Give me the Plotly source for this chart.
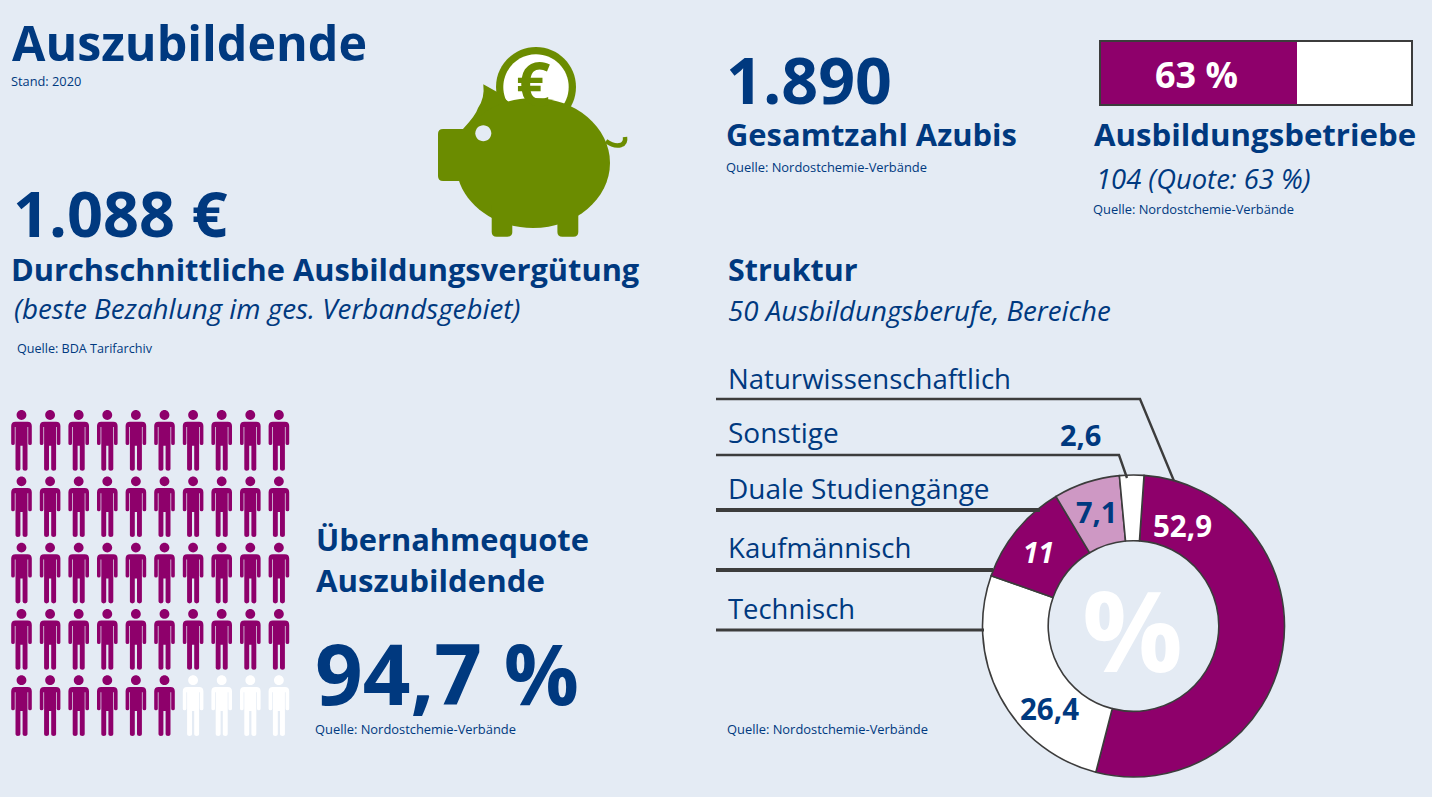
import plotly.graph_objects as go

# data
structure_labels = ['Naturwissenschaftlich', 'Technisch', 'Kaufmännisch', 'Duale Studiengänge', 'Sonstige']
structure_values = [52.9, 26.4, 11, 7.1, 2.6]
structure_colors = ['#8E006B', '#FFFFFF', '#8E006B', '#CE98C4', '#FFFFFF']
company_share = [63, 37]
company_colors = ['#8E006B', '#FFFFFF']
people_total = 50
people_marked = 46

BG = '#E4EBF4'
BLUE = '#00397F'
PURPLE = '#8E006B'
GREEN = '#6B8C00'
LINE = '#3C3C3C'
FONT = 'Open Sans'
W, H = 1432, 797


def txt(x, y, text, size, color=BLUE, weight=400, style='normal', anchor='left'):
    # Open Sans sits a little right of and below the x, y
    if anchor == 'left':
        x -= 2
    fig.add_annotation(x=x, y=y - 1, xref='x', yref='y', text=text, showarrow=False,
                       xanchor=anchor, yanchor='middle', borderpad=0,
                       font=dict(family=FONT, size=size, color=color, weight=weight, style=style))


def circle_path(cx, cy, r):
    k = 0.5523 * r
    return (f'M{cx - r},{cy} C{cx - r},{cy - k} {cx - k},{cy - r} {cx},{cy - r} '
            f'C{cx + k},{cy - r} {cx + r},{cy - k} {cx + r},{cy} '
            f'C{cx + r},{cy + k} {cx + k},{cy + r} {cx},{cy + r} '
            f'C{cx - k},{cy + r} {cx - r},{cy + k} {cx - r},{cy} Z ')


# one stick figure, x centred on cx, y starting at the top of the head
def person_path(cx, top):
    pts = [('M', -6, 11.7), ('L', 6, 11.7), ('Q', 10.3, 11.7, 10.3, 16), ('L', 10.3, 33.5),
           ('Q', 10.3, 35, 8.5, 35), ('Q', 6.7, 35, 6.7, 33.5), ('L', 6.7, 17), ('L', 6, 17),
           ('L', 6, 59), ('Q', 6, 60.8, 3.6, 60.8), ('Q', 1.1, 60.8, 1.1, 59), ('L', 1.1, 35.8),
           ('L', -1.1, 35.8), ('L', -1.1, 59), ('Q', -1.1, 60.8, -3.6, 60.8), ('Q', -6, 60.8, -6, 59),
           ('L', -6, 17), ('L', -6.7, 17), ('L', -6.7, 33.5), ('Q', -6.7, 35, -8.5, 35),
           ('Q', -10.3, 35, -10.3, 33.5), ('L', -10.3, 16), ('Q', -10.3, 11.7, -6, 11.7)]
    out = ''
    for p in pts:
        coords = [f'{cx + p[i]},{top + p[i + 1]}' for i in range(1, len(p), 2)]
        out += p[0] + ' '.join(coords) + ' '
    return out + 'Z ' + circle_path(cx, top + 5, 4.9)


fig = go.Figure()

# donut with the structure of the apprenticeships
fig.add_trace(go.Pie(labels=structure_labels, values=structure_values, hole=0.565, sort=False,
                     direction='clockwise', rotation=4, textinfo='none', showlegend=False,
                     marker=dict(colors=structure_colors, line=dict(color=LINE, width=1.6)),
                     domain=dict(x=[982 / W, 1285 / W], y=[(H - 777) / H, (H - 475) / H])))

# 63 % bar
for value, color in zip(company_share, company_colors):
    fig.add_trace(go.Bar(x=[value], y=['Betriebe'], orientation='h', xaxis='x2', yaxis='y2',
                         marker=dict(color=color, line=dict(width=0)), showlegend=False))

# stick figures
paths = {PURPLE: '', '#FFFFFF': ''}
for n in range(people_total):
    row, col = divmod(n, 10)
    color = PURPLE if n < people_marked else '#FFFFFF'
    paths[color] += person_path(21.5 + col * 28.6, 410 + row * 66.3)
for color, path in paths.items():
    fig.add_shape(type='path', path=path, fillcolor=color, line_width=0, xref='x', yref='y')

# piggy bank
fig.add_shape(type='path', path=circle_path(536, 87, 40), fillcolor=GREEN, line_width=0)
fig.add_shape(type='path', path=circle_path(536, 87, 32.7), fillcolor='#FFFFFF', line_width=0)
fig.add_shape(type='path', path='M483.3,84.3 L496.7,91.7 L510,103 L500,135 L463,129 Q476,115 478,108 Q485,98 483.3,84.3 Z',
              fillcolor=GREEN, line_width=0)
k_x, k_y = 0.5523 * 77, 0.5523 * 65
fig.add_shape(type='path',
              path=(f'M456,163 C456,{163 - k_y} {533 - k_x},98 533,98 C{533 + k_x},98 610,{163 - k_y} 610,163 '
                    f'C610,{163 + k_y} {533 + k_x},228 533,228 C{533 - k_x},228 456,{163 + k_y} 456,163 Z'),
              fillcolor=GREEN, line_width=0)
fig.add_shape(type='path', path=('M443,129 L470,129 L470,181 L443,181 Q438,181 438,176 L438,134 Q438,129 443,129 Z'),
              fillcolor=GREEN, line_width=0)
for x0, x1 in [(491.7, 512.3), (557.4, 578.3)]:
    fig.add_shape(type='path',
                  path=(f'M{x0},205 L{x1},205 L{x1},232 Q{x1},236.7 {x1 - 5},236.7 L{x0 + 5},236.7 '
                        f'Q{x0},236.7 {x0},232 Z'),
                  fillcolor=GREEN, line_width=0)
fig.add_shape(type='path', path='M606,141 Q614,147 621,145 Q626,143 625,137',
              line=dict(color=GREEN, width=4.5), fillcolor='rgba(0,0,0,0)')
fig.add_shape(type='path', path=circle_path(483.3, 133.3, 8), fillcolor=BG, line_width=0)

# frame of the bar
fig.add_shape(type='rect', x0=1100, x1=1412, y0=41, y1=105, line=dict(color=LINE, width=2))

# leader lines of the donut
for pts, width in [([(716, 399), (1140, 399), (1174, 481)], 2.4),
                   ([(716, 455), (1119, 455), (1127, 478)], 2.4),
                   ([(716, 510), (1040, 510)], 4),
                   ([(716, 570), (993, 570)], 4),
                   ([(716, 630), (984, 630)], 3)]:
    path = 'M' + ' L'.join(f'{x},{y}' for x, y in pts)
    fig.add_shape(type='path', path=path, line=dict(color=LINE, width=width), fillcolor='rgba(0,0,0,0)')

# left column
txt(13, 43, 'Auszubildende', 48.4, weight=700)
txt(12, 82, 'Stand: 2020', 12.8)
txt(533, 84, '€', 60, color=GREEN, weight=700, anchor='center')
txt(14, 213, '1.088 €', 63, weight=700)
txt(12, 270, 'Durchschnittliche Ausbildungsvergütung', 30.8, weight=700)
txt(15, 309, '(beste Bezahlung im ges. Verbandsgebiet)', 27.8, style='italic')
txt(18, 349, 'Quelle: BDA Tarifarchiv', 12.6)
txt(317, 540, 'Übernahmequote', 30.8, weight=700)
txt(317, 581, 'Auszubildende', 31.2, weight=700)
txt(316, 673, '94,7 %', 83.5, weight=700)
txt(316, 730, 'Quelle: Nordostchemie-Verbände', 12.9)
txt(728, 730, 'Quelle: Nordostchemie-Verbände', 12.9)

# right column
txt(727, 80, '1.890', 64.5, weight=700)
txt(727, 135, 'Gesamtzahl Azubis', 30.9, weight=700)
txt(727, 168, 'Quelle: Nordostchemie-Verbände', 12.9)
txt(1196, 75, f'{company_share[0]} %', 36, color='#FFFFFF', weight=700, anchor='center')
txt(1095, 135, 'Ausbildungsbetriebe', 31.2, weight=700)
txt(1097, 179, '104 (Quote: 63 %)', 27.4, style='italic')
txt(1094, 210, 'Quelle: Nordostchemie-Verbände', 12.9)
txt(729, 270, 'Struktur', 30.4, weight=700)
txt(729, 311, '50 Ausbildungsberufe, Bereiche', 27.7, style='italic')
txt(729, 379, 'Naturwissenschaftlich', 27.6)
txt(729, 433, 'Sonstige', 28)
txt(729, 489, 'Duale Studiengänge', 28)
txt(729, 548, 'Kaufmännisch', 27.6)
txt(729, 609, 'Technisch', 27.4)

# donut values
value_text = [str(v).replace('.', ',') for v in structure_values]
txt(1182, 526, value_text[0], 29.5, color='#FFFFFF', weight=700, anchor='center')
txt(1049, 709, value_text[1], 29.5, weight=700, anchor='center')
txt(1038, 553, value_text[2], 28, color='#FFFFFF', weight=700, style='italic', anchor='center')
txt(1096, 512, value_text[3], 29, weight=700, anchor='center')
txt(1080, 435, value_text[4], 29, weight=700, anchor='center')
txt(1132, 629, '%', 112, color='#FFFFFF', weight=700, anchor='center')

fig.update_layout(
    width=W, height=H, margin=dict(l=0, r=0, t=0, b=0),
    paper_bgcolor=BG, plot_bgcolor=BG, barmode='stack', bargap=0, showlegend=False,
    xaxis=dict(range=[0, W], visible=False, fixedrange=True, domain=[0, 1]),
    yaxis=dict(range=[H, 0], visible=False, fixedrange=True, domain=[0, 1]),
    xaxis2=dict(range=[0, 100], visible=False, domain=[1100 / W, 1412 / W], anchor='y2'),
    yaxis2=dict(visible=False, domain=[(H - 105) / H, (H - 41) / H], anchor='x2'),
)

fig.write_html("out.html", config=dict(displayModeBar=False),
               post_script=f"document.body.style.margin='0';document.body.style.background='{BG}';")
